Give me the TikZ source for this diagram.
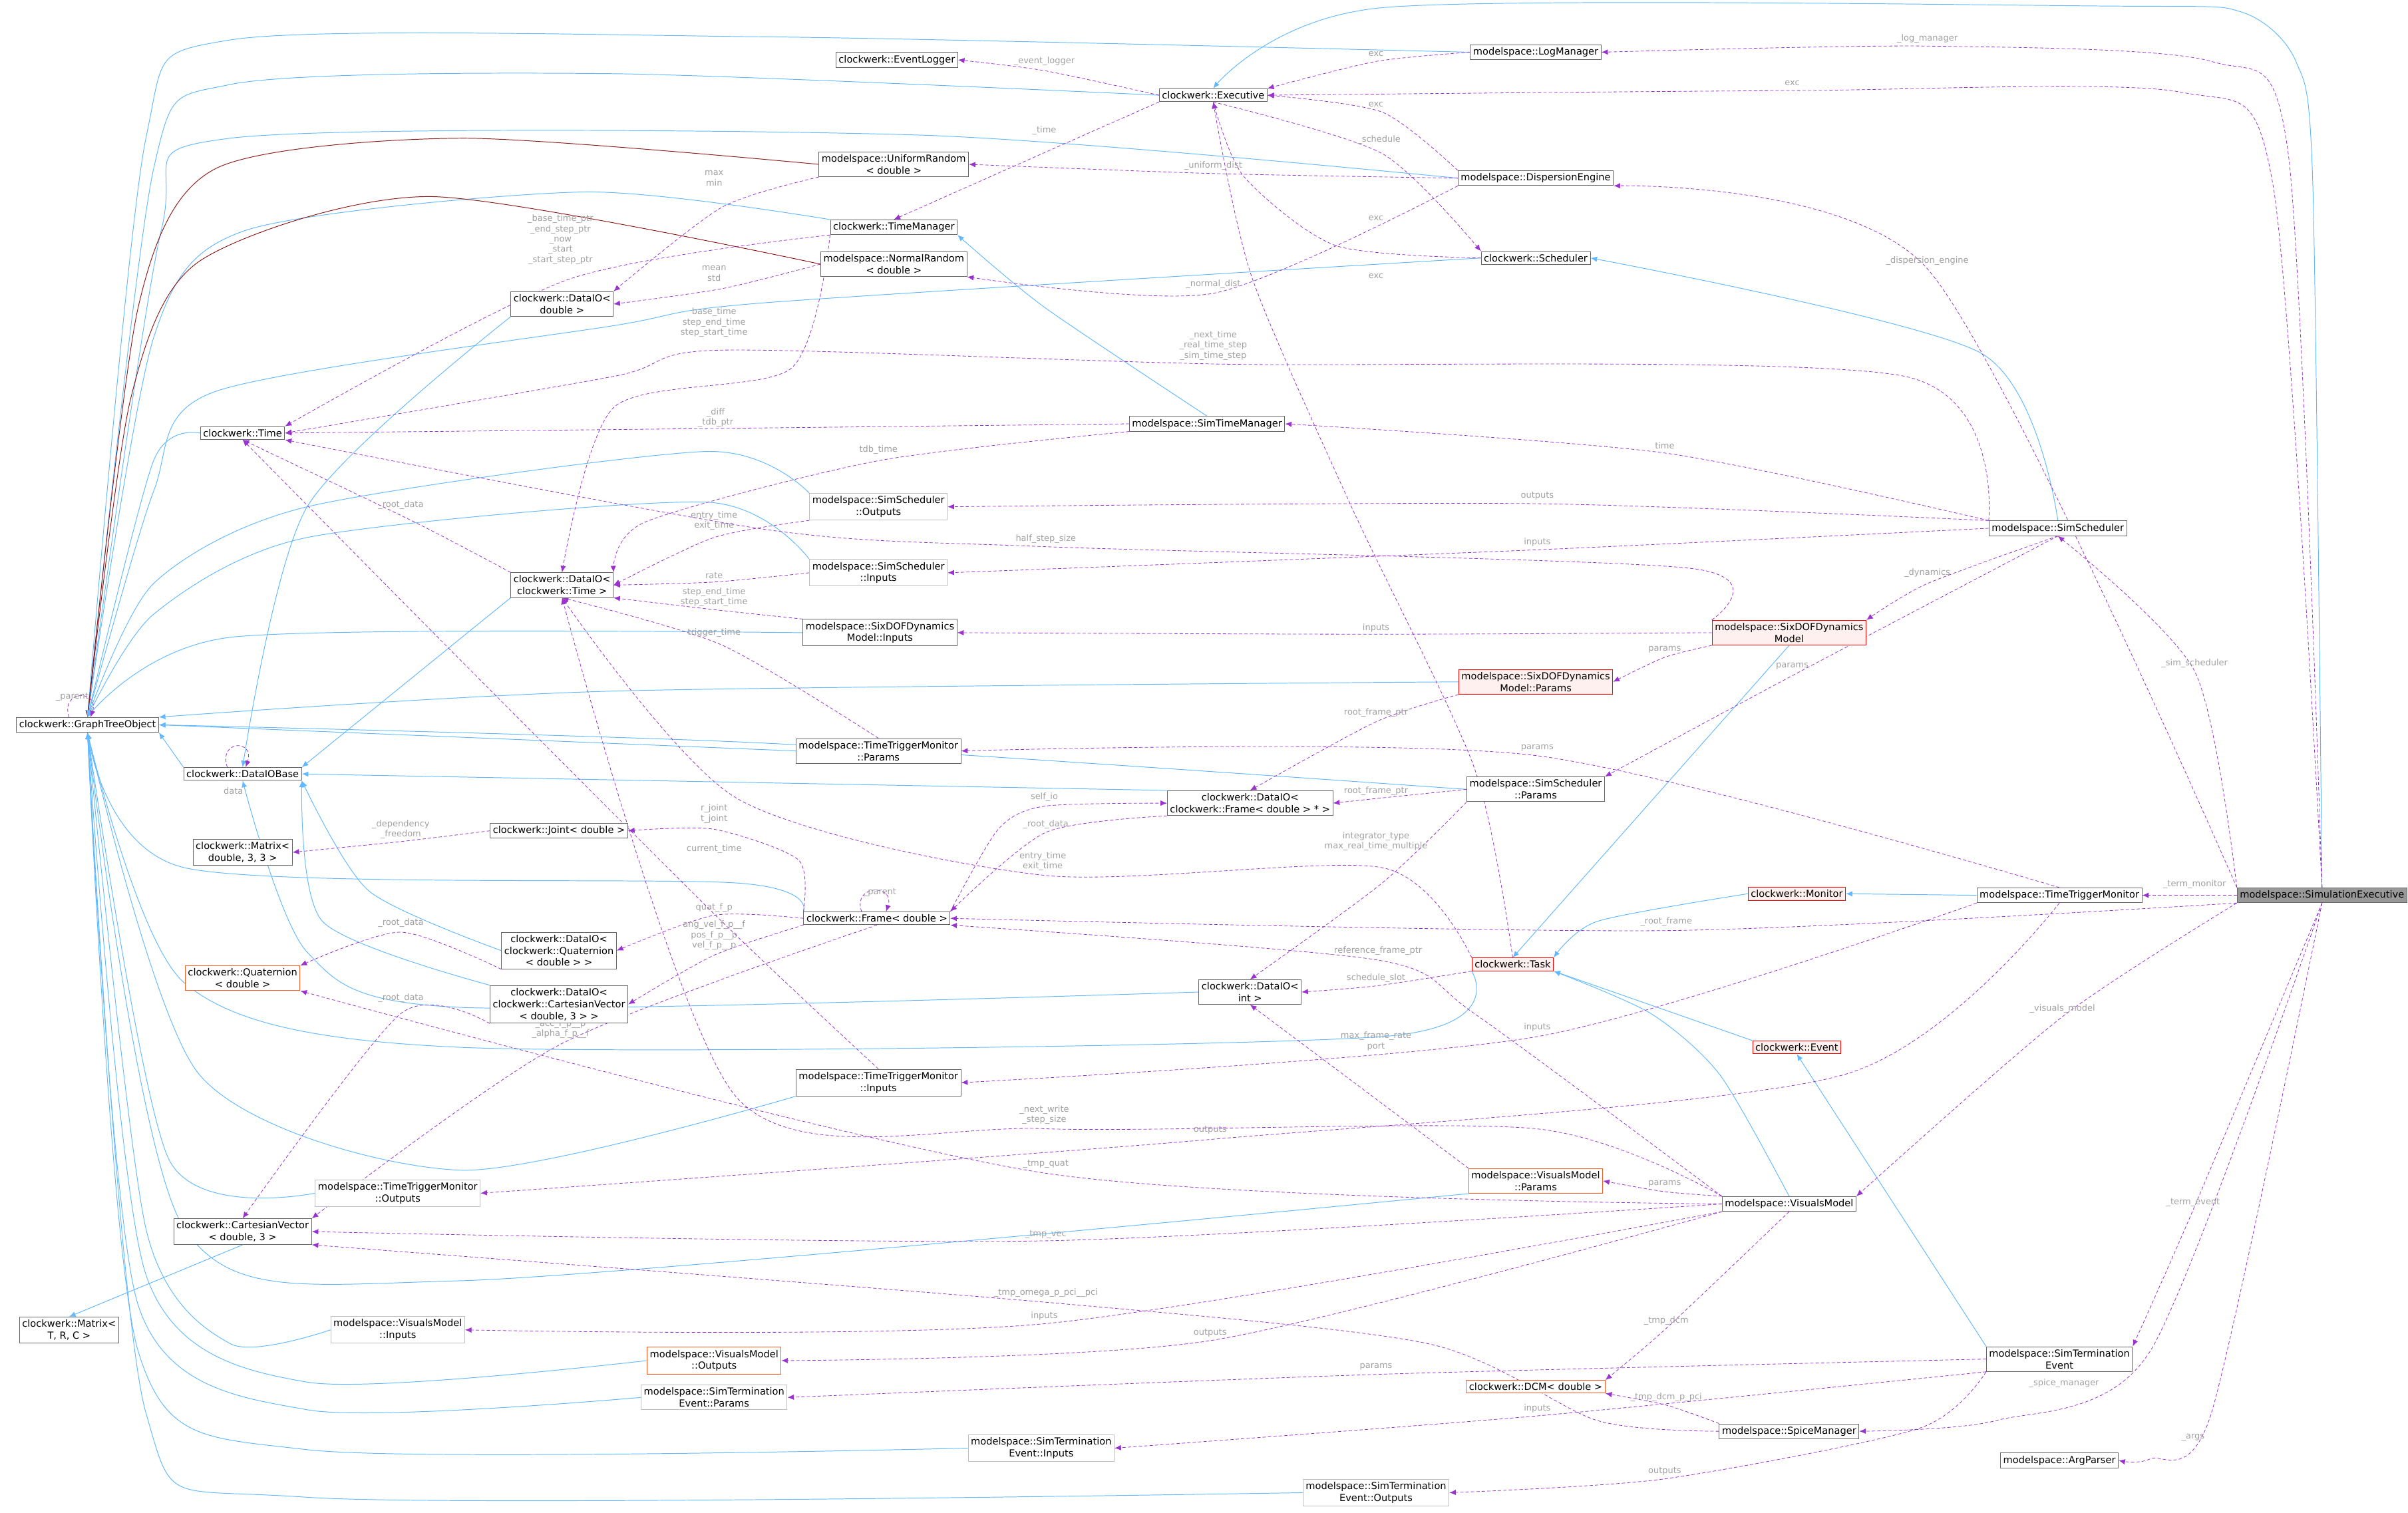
\documentclass[tikz,border=0pt]{standalone}
\usepackage{fontspec}
\setmainfont{DejaVu Sans}
\usetikzlibrary{arrows.meta,calc}
\definecolor{purp}{HTML}{9A32CD}
\definecolor{blu}{HTML}{63B8FF}
\definecolor{dred}{HTML}{8B1A1A}
\definecolor{lg}{HTML}{A0A0A0}
\definecolor{bord}{HTML}{666666}
\definecolor{lbord}{HTML}{BFBFBF}
\definecolor{redfill}{HTML}{FFF0F0}
\definecolor{orgb}{HTML}{FF5A1E}
\definecolor{curfill}{HTML}{999999}
\pgfdeclarelayer{bg}\pgfsetlayers{bg,main}
\tikzset{
 box/.style={draw=bord,fill=white,line width=0.6pt,inner sep=2.5pt,align=center,font=\fontsize{9}{11}\selectfont},
 redbox/.style={box,draw=red,fill=redfill},
 orgbox/.style={box,draw=orgb},
 graybox/.style={box,draw=lbord},
 curbox/.style={box,fill=curfill,draw=bord},
 dep/.style={draw=purp,dash pattern=on 3pt off 2pt,line width=0.5pt,-{Latex[length=6pt,width=5pt]}},
 inh/.style={draw=blu,line width=0.6pt,-{Latex[length=6pt,width=5pt]}},
 tinst/.style={draw=dred,line width=0.6pt,-{Latex[length=6pt,width=5pt]}},
 lbl/.style={text=lg,align=center,inner sep=0.5pt,font=\fontsize{8}{9.5}\selectfont},
}
\begin{document}
\begin{tikzpicture}[x=0.5mm,y=-0.5mm]
\useasboundingbox (0,0) rectangle (1568,985);
% nodes
\node[box] (gto) at (57,472) {clockwerk::GraphTreeObject};
\node[box] (evlog) at (584,39) {clockwerk::EventLogger};
\node[box] (exe) at (790,62) {clockwerk::Executive};
\node[box] (logm) at (1000,34) {modelspace::LogManager};
\node[box] (urand) at (582,107) {modelspace::UniformRandom\\< double >};
\node[box] (disp) at (1000,116) {modelspace::DispersionEngine};
\node[box] (tm) at (582,148) {clockwerk::TimeManager};
\node[box] (nrand) at (582,172) {modelspace::NormalRandom\\< double >};
\node[box] (sched) at (1000,168) {clockwerk::Scheduler};
\node[box] (diod) at (366,198) {clockwerk::DataIO<\\double >};
\node[box] (time) at (158,282) {clockwerk::Time};
\node[box] (stm) at (786,276) {modelspace::SimTimeManager};
\node[graybox] (ssout) at (572,330) {modelspace::SimScheduler\\::Outputs};
\node[box] (ss) at (1340,344) {modelspace::SimScheduler};
\node[box] (diot) at (366,381) {clockwerk::DataIO<\\clockwerk::Time >};
\node[graybox] (ssin) at (572,373) {modelspace::SimScheduler\\::Inputs};
\node[box] (sixin) at (573,412) {modelspace::SixDOFDynamics\\Model::Inputs};
\node[redbox] (sixm) at (1165,412) {modelspace::SixDOFDynamics\\Model};
\node[redbox] (sixpar) at (1000,444) {modelspace::SixDOFDynamics\\Model::Params};
\node[box] (ttmpar) at (572,489) {modelspace::TimeTriggerMonitor\\::Params};
\node[box] (dioframe) at (814,523) {clockwerk::DataIO<\\clockwerk::Frame< double > * >};
\node[box] (sspar) at (1000,514) {modelspace::SimScheduler\\::Params};
\node[box] (diobase) at (158,504) {clockwerk::DataIOBase};
\node[box] (joint) at (364,541) {clockwerk::Joint< double >};
\node[box] (mat33) at (158,555) {clockwerk::Matrix<\\double, 3, 3 >};
\node[box] (frame) at (571,598) {clockwerk::Frame< double >};
\node[box] (dioquat) at (364,619) {clockwerk::DataIO<\\clockwerk::Quaternion\\< double > >};
\node[orgbox] (quat) at (158,637) {clockwerk::Quaternion\\< double >};
\node[box] (diocv) at (364,654) {clockwerk::DataIO<\\clockwerk::CartesianVector\\< double, 3 > >};
\node[redbox] (monitor) at (1170,582) {clockwerk::Monitor};
\node[box] (ttm) at (1341,583) {modelspace::TimeTriggerMonitor};
\node[curbox] (simexec) at (1512,583) {modelspace::SimulationExecutive};
\node[redbox] (task) at (985,628) {clockwerk::Task};
\node[box] (dioint) at (814,646) {clockwerk::DataIO<\\int >};
\node[redbox] (event) at (1170,682) {clockwerk::Event};
\node[box] (ttmin) at (572,705) {modelspace::TimeTriggerMonitor\\::Inputs};
\node[graybox] (ttmout) at (259,777) {modelspace::TimeTriggerMonitor\\::Outputs};
\node[orgbox] (vmpar) at (1000,769) {modelspace::VisualsModel\\::Params};
\node[box] (vm) at (1165,784) {modelspace::VisualsModel};
\node[box] (cv) at (158,802) {clockwerk::CartesianVector\\< double, 3 >};
\node[box] (mt) at (45,866) {clockwerk::Matrix<\\T, R, C >};
\node[graybox] (vmin) at (259,866) {modelspace::VisualsModel\\::Inputs};
\node[orgbox] (vmout) at (465,886) {modelspace::VisualsModel\\::Outputs};
\node[graybox] (stpar) at (465,910) {modelspace::SimTermination\\Event::Params};
\node[box] (ste) at (1341,885) {modelspace::SimTermination\\Event};
\node[orgbox] (dcm) at (1000,903) {clockwerk::DCM< double >};
\node[box] (spice) at (1165,932) {modelspace::SpiceManager};
\node[graybox] (stin) at (678,943) {modelspace::SimTermination\\Event::Inputs};
\node[box] (args) at (1341,951) {modelspace::ArgParser};
\node[graybox] (stout) at (896,972) {modelspace::SimTermination\\Event::Outputs};

\begin{pgfonlayer}{bg}
\tikzset{every plot/.style={smooth,tension=0.45}}
% inheritance
\draw[inh] plot coordinates {(exe.west) (400,48) (150,55) (100,110) (gto.north)};
\draw[inh] plot coordinates {(logm.west) (500,24) (150,26) (95,90) (gto.north)};
\draw[inh] plot coordinates {(disp.west) (600,88) (150,90) (105,150) (gto.north)};
\draw[inh] plot coordinates {(tm.north west) (380,125) (160,150) (100,220) (gto.north)};
\draw[inh] plot coordinates {(sched.west) (500,197) (400,212) (140,255) (100,320) (gto.north)};
\draw[tinst] plot coordinates {(urand.west) (300,90) (140,110) (90,200) (gto.north)};
\draw[tinst] plot coordinates {(nrand.west) (280,128) (130,170) (85,260) (gto.north)};
\draw[inh] plot coordinates {(time.west) (100,300) (gto.north)};
\draw[inh] plot coordinates {(ssout.north west) (460,294) (200,330) (100,380) (gto.north)};
\draw[inh] plot coordinates {(ssin.north west) (460,327) (200,350) (100,400) (gto.north)};
\draw[inh] plot coordinates {(sixin.west) (150,415) (gto.north)};
\draw[inh] plot coordinates {(sixpar.west) (400,450) (gto.north east)};
\draw[inh] (ttmpar.west) -- (gto.east);
\draw[inh] plot coordinates {(sspar.west) (500,484) (gto.east)};
\draw[inh] (diobase.north west) -- (gto.south east);
\draw[inh] plot coordinates {(frame.north west) (480,575) (120,565) (gto.south)};
\draw[inh] plot coordinates {(task.south west) (900,675) (300,682) (120,640) (gto.south)};
\draw[inh] plot coordinates {(ttmin.south west) (300,762) (130,700) (gto.south)};
\draw[inh] plot coordinates {(ttmout.west) (110,755) (gto.south)};
\draw[inh] plot coordinates {(vmpar.south west) (300,834) (120,800) (gto.south)};
\draw[inh] plot coordinates {(vmin.west) (150,875) (95,800) (gto.south)};
\draw[inh] plot coordinates {(vmout.west) (200,900) (95,830) (gto.south)};
\draw[inh] plot coordinates {(stpar.west) (200,918) (90,850) (gto.south)};
\draw[inh] plot coordinates {(stin.west) (200,944) (90,880) (gto.south)};
\draw[inh] plot coordinates {(stout.west) (200,975) (95,920) (gto.south)};
\draw[inh] plot coordinates {(diod.south west) (200,330) (diobase.north)};
\draw[inh] (diot.south west) -- (diobase.north east);
\draw[inh] (dioframe.north west) -- (diobase.east);
\draw[inh] plot coordinates {(dioquat.west) (240,580) (diobase.south east)};
\draw[inh] plot coordinates {(diocv.north west) (210,600) (diobase.south east)};
\draw[inh] plot coordinates {(dioint.west) (300,656) (200,620) (diobase.south)};
\draw[inh] (cv.south) -- (mt.north);
\draw[inh] (sixm.south) -- (task.north);
\draw[inh] plot coordinates {(vm.north) (1120,700) (1075,660) (task.south east)};
\draw[inh] (event.north west) -- (task.south east);
\draw[inh] plot coordinates {(monitor.west) (1040,600) (task.north east)};
\draw[inh] (ttm.west) -- (monitor.east);
\draw[inh] (ste.north west) -- (event.south);
\draw[inh] plot coordinates {(stm.north) (680,200) (tm.south east)};
\draw[inh] plot coordinates {(ss.north) (1290,230) (sched.east)};
\draw[inh] plot coordinates {(simexec.north) (1506,120) (1495,40) (1460,8) (1380,4) (900,5) (exe.north)};

% dependencies
\draw[dep] plot coordinates {(exe.west) (680,46) (evlog.east)} node[lbl] at (680,40) {\_event\_logger};
\draw[dep] plot coordinates {(exe.south west) (690,95) (tm.north)} node[lbl] at (680,85) {\_time};
\draw[dep] plot coordinates {(exe.south) (900,100) (sched.north west)} node[lbl] at (898,91) {\_schedule};
\draw[dep] plot coordinates {(logm.west) (896,40) (exe.north east)} node[lbl] at (896,35) {exc};
\draw[dep] plot coordinates {(disp.north west) (900,73) (exe.east)} node[lbl] at (896,68) {exc};
\draw[dep] plot coordinates {(sched.west) (870,160) (810,115) (exe.south)} node[lbl] at (896,142) {exc};
\draw[dep] plot coordinates {(disp.west) (790,113) (urand.east)} node[lbl] at (790,108) {\_uniform\_dist};
\draw[dep] plot coordinates {(disp.south west) (790,191) (nrand.south east)} node[lbl] at (790,185) {\_normal\_dist};
\draw[dep] plot coordinates {(urand.south west) (470,135) (diod.north east)} node[lbl] at (465,116) {max\\min};
\draw[dep] plot coordinates {(nrand.west) (470,188) (diod.east)} node[lbl] at (465,178) {mean\\std};
\draw[dep] plot coordinates {(tm.south west) (370,182) (time.north east)} node[lbl] at (365,156) {\_base\_time\_ptr\\\_end\_step\_ptr\\\_now\\\_start\\\_start\_step\_ptr};
\draw[dep] plot coordinates {(tm.south west) (515,240) (400,265) (diot.north)} node[lbl] at (465,210) {base\_time\\step\_end\_time\\step\_start\_time};
\draw[dep] plot coordinates {(ss.north west) (1240,245) (790,237) (470,228) (400,245) (time.east)} node[lbl] at (790,225) {\_next\_time\\\_real\_time\_step\\\_sim\_time\_step};
\draw[dep] plot coordinates {(stm.west) (466,279) (time.east)} node[lbl] at (466,272) {\_diff\\\_tdb\_ptr};
\draw[dep] plot coordinates {(stm.south west) (572,300) (420,340) (diot.north east)} node[lbl] at (572,293) {tdb\_time};
\draw[dep] plot coordinates {(diot.north west) (270,340) (time.south)} node[lbl] at (261,329) {\_root\_data};
\draw[dep] plot coordinates {(ss.north west) (1001,328) (ssout.east)} node[lbl] at (1001,323) {outputs};
\draw[dep] plot coordinates {(ss.west) (1001,358) (ssin.east)} node[lbl] at (1001,353) {inputs};
\draw[dep] plot coordinates {(ss.north west) (1084,295) (stm.east)} node[lbl] at (1084,290) {time};
\draw[dep] plot coordinates {(ssout.south west) (465,350) (diot.east)} node[lbl] at (465,339) {entry\_time\\exit\_time};
\draw[dep] plot coordinates {(ssin.west) (465,379) (diot.east)} node[lbl] at (465,375) {rate};
\draw[dep] plot coordinates {(sixin.north west) (465,397) (diot.south east)} node[lbl] at (465,389) {step\_end\_time\\step\_start\_time};
\draw[dep] plot coordinates {(ttmpar.north) (470,420) (diot.south)} node[lbl] at (465,412) {trigger\_time};
\draw[dep] plot coordinates {(sixm.north west) (1100,370) (681,356) (500,345) (time.south east)} node[lbl] at (681,351) {half\_step\_size};
\draw[dep] plot coordinates {(sixm.west) (896,413) (sixin.east)} node[lbl] at (896,409) {inputs};
\draw[dep] plot coordinates {(sixm.south west) (1084,428) (sixpar.east)} node[lbl] at (1084,423) {params};
\draw[dep] plot coordinates {(ss.south) (1255,380) (sixm.north east)} node[lbl] at (1255,373) {\_dynamics};
\draw[dep] plot coordinates {(ss.south) (1167,440) (sspar.north east)} node[lbl] at (1167,434) {params};
\draw[dep] plot coordinates {(task.north) (960,500) (880,330) (815,180) (exe.south)} node[lbl] at (896,180) {exc};
\draw[dep] plot coordinates {(task.north west) (900,565) (680,570) (480,520) (diot.south)} node[lbl] at (679,561) {entry\_time\\exit\_time};
\draw[dep] plot coordinates {(task.south west) (896,642) (dioint.east)} node[lbl] at (896,637) {schedule\_slot};
\draw[dep] plot coordinates {(sixpar.south west) (896,470) (dioframe.north)} node[lbl] at (896,464) {root\_frame\_ptr};
\draw[dep] plot coordinates {(sspar.west) (896,520) (dioframe.east)} node[lbl] at (896,515) {root\_frame\_ptr};
\draw[dep] plot coordinates {(sspar.south west) (900,575) (dioint.north)} node[lbl] at (896,548) {integrator\_type\\max\_real\_time\_multiple};
\draw[dep] plot coordinates {(frame.north east) (650,540) (680,525) (dioframe.west)} node[lbl] at (680,519) {self\_io};
\draw[dep] plot coordinates {(dioframe.south west) (681,542) (frame.north east)} node[lbl] at (681,537) {\_root\_data};
\draw[dep] ($(frame.north)+(-10,0)$) .. controls +(-6,-18) and +(6,-18) .. ($(frame.north)+(6,0)$) node[lbl] at (573,581) {\_parent};
\draw[dep] plot coordinates {(frame.north west) (520,560) (465,540) (joint.east)} node[lbl] at (465,530) {r\_joint\\t\_joint};
\draw[dep] plot coordinates {(frame.west) (465,596) (dioquat.east)} node[lbl] at (465,591) {quat\_f\_p};
\draw[dep] plot coordinates {(frame.south west) (465,622) (diocv.east)} node[lbl] at (465,609) {ang\_vel\_f\_p\_\_f\\pos\_f\_p\_\_p\\vel\_f\_p\_\_p};
\draw[dep] plot coordinates {(frame.south) (365,680) (cv.north east)} node[lbl] at (365,670) {\_acc\_f\_p\_\_p\\\_alpha\_f\_p\_\_f};
\draw[dep] plot coordinates {(joint.west) (261,548) (mat33.east)} node[lbl] at (261,540) {\_dependency\\\_freedom};
\draw[dep] plot coordinates {(dioquat.south west) (261,607) (quat.north east)} node[lbl] at (261,601) {\_root\_data};
\draw[dep] plot coordinates {(diocv.south west) (261,660) (cv.north)} node[lbl] at (261,650) {\_root\_data};
\draw[dep] plot coordinates {(ttmin.north) (470,600) (300,430) (time.south)} node[lbl] at (465,553) {current\_time};
\draw[dep] (simexec.west) -- (ttm.east) node[lbl] at (1429,576) {\_term\_monitor};
\draw[dep] plot coordinates {(simexec.south west) (1085,606) (frame.east)} node[lbl] at (1085,600) {\_root\_frame};
\draw[dep] plot coordinates {(ttm.north) (1000,492) (ttmpar.east)} node[lbl] at (1001,487) {params};
\draw[dep] plot coordinates {(ttm.south west) (1001,675) (ttmin.east)} node[lbl] at (1001,669) {inputs};
\draw[dep] plot coordinates {(ttm.south) (1200,700) (788,742) (ttmout.east)} node[lbl] at (788,736) {outputs};
\draw[dep] plot coordinates {(vm.north west) (960,660) (896,625) (frame.south east)} node[lbl] at (896,619) {\_reference\_frame\_ptr};
\draw[dep] plot coordinates {(vm.north west) (1000,735) (680,735) (480,715) (diot.south)} node[lbl] at (680,726) {\_next\_write\\\_step\_size};
\draw[dep] plot coordinates {(vm.west) (681,764) (quat.south east)} node[lbl] at (681,758) {\_tmp\_quat};
\draw[dep] plot coordinates {(vm.west) (681,808) (cv.east)} node[lbl] at (681,804) {\_tmp\_vec};
\draw[dep] plot coordinates {(vm.north west) (1084,776) (vmpar.east)} node[lbl] at (1084,771) {params};
\draw[dep] plot coordinates {(vm.south west) (680,862) (vmin.east)} node[lbl] at (680,857) {inputs};
\draw[dep] plot coordinates {(vm.south west) (788,873) (vmout.east)} node[lbl] at (788,868) {outputs};
\draw[dep] plot coordinates {(vm.south) (1085,865) (dcm.north east)} node[lbl] at (1085,860) {\_tmp\_dcm};
\draw[dep] (vmpar.north west) -- (dioint.south) node[lbl] at (896,678) {max\_frame\_rate\\port};
\draw[dep] plot coordinates {(spice.west) (1040,925) (930,875) (681,848) (cv.south east)} node[lbl] at (681,842) {\_tmp\_omega\_p\_pci\_\_pci};
\draw[dep] plot coordinates {(spice.north west) (1085,915) (dcm.south east)} node[lbl] at (1085,910) {\_tmp\_dcm\_p\_pci};
\draw[dep] plot coordinates {(ste.west) (896,895) (stpar.east)} node[lbl] at (896,890) {params};
\draw[dep] plot coordinates {(ste.south west) (1001,922) (stin.east)} node[lbl] at (1001,917) {inputs};
\draw[dep] plot coordinates {(ste.south west) (1250,930) (1084,963) (stout.east)} node[lbl] at (1084,958) {outputs};
\draw[dep] plot coordinates {(simexec.north) (1490,100) (1440,40) (1255,30) (logm.east)} node[lbl] at (1255,25) {\_log\_manager};
\draw[dep] plot coordinates {(simexec.north) (1480,120) (1420,60) (1167,59) (exe.east)} node[lbl] at (1167,54) {exc};
\draw[dep] plot coordinates {(simexec.north west) (1255,175) (disp.south east)} node[lbl] at (1255,170) {\_dispersion\_engine};
\draw[dep] plot coordinates {(simexec.north west) (1429,437) (ss.south)} node[lbl] at (1429,432) {\_sim\_scheduler};
\draw[dep] plot coordinates {(simexec.south west) (1343,662) (vm.north east)} node[lbl] at (1343,657) {\_visuals\_model};
\draw[dep] plot coordinates {(simexec.south) (1428,788) (ste.north east)} node[lbl] at (1428,783) {\_term\_event};
\draw[dep] plot coordinates {(simexec.south) (1400,880) (1300,925) (spice.east)} node[lbl] at (1344,901) {\_spice\_manager};
\draw[dep] plot coordinates {(simexec.south) (1440,920) (1400,950) (args.east)} node[lbl] at (1428,936) {\_args};
\draw[dep] ($(gto.north)+(-12,0)$) .. controls +(-6,-18) and +(6,-18) .. ($(gto.north)+(2,0)$) node[lbl] at (47,454) {\_parent};
\draw[dep] ($(diobase.north)+(-10,0)$) .. controls +(-6,-18) and +(6,-18) .. ($(diobase.north)+(2,0)$) node[lbl] at (152,515) {data};
\end{pgfonlayer}
\end{tikzpicture}
\end{document}
